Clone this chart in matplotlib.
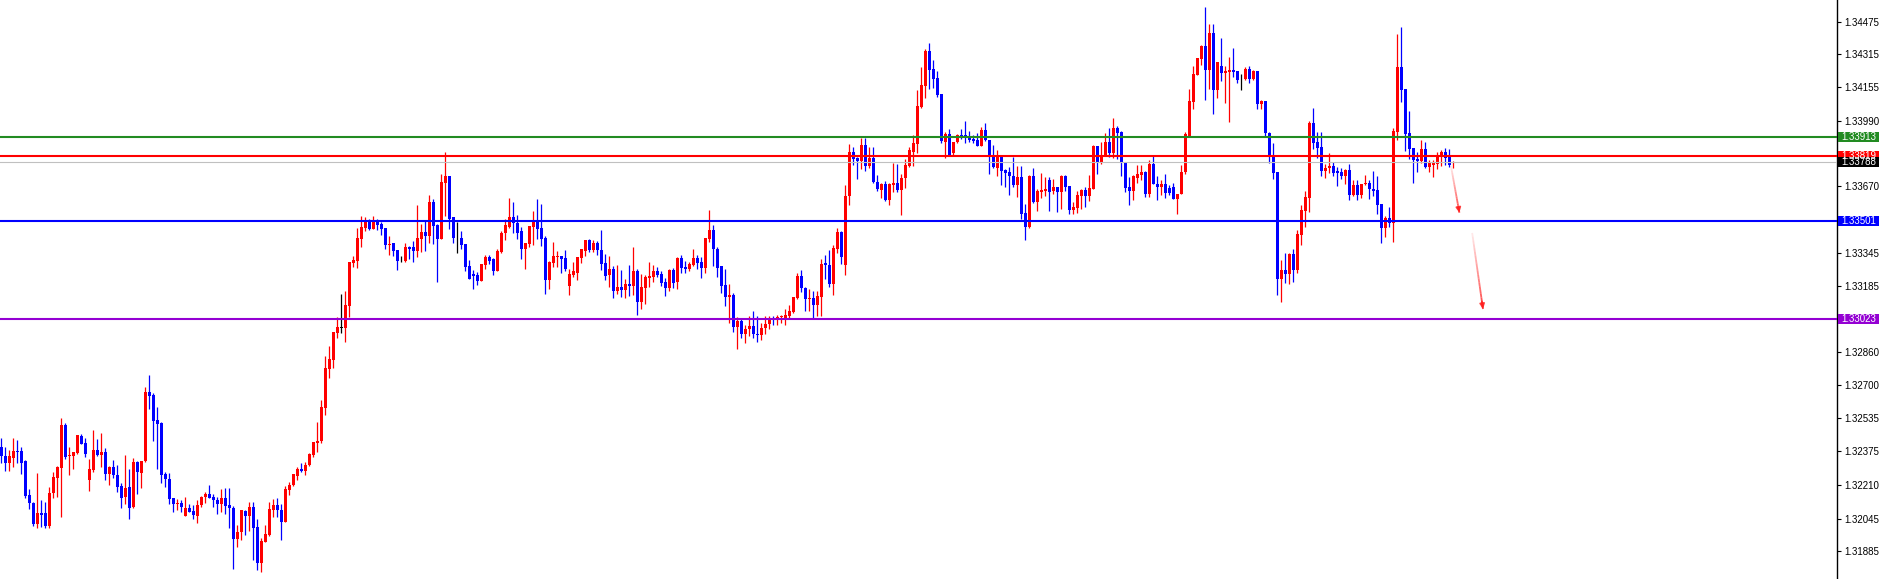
import numpy as np
import matplotlib.pyplot as plt
import matplotlib.transforms as mtransforms
from matplotlib.patches import Rectangle
from matplotlib.collections import LineCollection

# candles, oldest first, prices in points (1e-5)
open_pts = [
    132394,132352,132319,132343,132378,132376,132329,132161,132122,132019,
    132071,132071,132011,132169,132246,132295,132503,132352,132353,132368,
    132449,132413,132236,132285,132381,132358,132371,132265,132298,132259,
    132205,132153,132200,132102,132322,132270,132327,132665,132650,132526,
    132515,132264,132239,132146,132115,132120,132060,132096,132081,132060,
    132110,132149,132164,132151,132136,132117,132148,132112,132097,131947,
    131978,132083,132060,132102,132004,131827,131933,131967,132087,132112,
    132086,132030,132185,132208,132255,132290,132278,132306,132356,132417,
    132425,132587,132778,132820,132954,132978,132978,133086,133296,133306,
    133414,133467,133495,133463,133505,133485,133466,133383,133392,133358,
    133309,133306,133373,133373,133355,133414,133446,133427,133593,133479,
    133414,133687,133720,133518,133415,133419,133388,133280,133241,133236,
    133209,133287,133323,133315,133258,133351,133440,133473,133519,133489,
    133450,133365,133387,133473,133502,133466,133419,133212,133295,133326,
    133330,133320,133184,133237,133248,133321,133356,133408,133359,133391,
    133359,133294,133237,133266,133160,133178,133165,133193,133183,133256,
    133106,133175,133224,133228,133256,133242,133202,133175,133261,133202,
    133320,133277,133268,133287,133320,133300,133273,133414,133457,133365,
    133281,133188,133131,133137,132980,133010,132950,132970,132985,132950,
    132945,132975,132995,133025,133015,133030,133016,133036,133055,133125,
    133231,133174,133117,133122,133089,133130,133293,133285,133192,133363,
    133446,133285,133622,133836,133808,133795,133872,133771,133807,133692,
    133652,133681,133603,133676,133684,133652,133709,133771,133839,133877,
    134056,134160,134331,134242,134199,134121,133888,133926,133834,133885,
    133921,133921,133912,133903,133896,133869,133945,133897,133823,133761,
    133815,133750,133740,133721,133677,133716,133540,133473,133721,133595,
    133644,133647,133701,133647,133667,133644,133721,133672,133556,133564,
    133624,133652,133624,133657,133867,133786,133818,133887,133833,133955,
    133937,133786,133667,133649,133712,133725,133740,133633,133780,133683,
    133667,133682,133660,133667,133610,133633,133740,133916,134084,134214,
    134292,134356,134239,134420,134141,134258,134226,134231,134239,134234,
    134203,134193,134244,134195,134234,134072,134087,133932,133818,133740,
    133218,133261,133241,133339,133261,133432,133549,133613,133980,133887,
    133862,133745,133758,133769,133745,133740,133722,133750,133629,133675,
    133629,133680,133686,133657,133652,133583,133468,133513,133492,133937,
    134253,134146,133931,133856,133803,133792,133852,133766,133776,133779,
    133823,133838,133815,133783,
]
high_pts = [
    132438,132397,132381,132438,132430,132397,132332,132190,132128,132268,
    132136,132128,132202,132273,132303,132536,132515,132394,132371,132454,
    132459,132438,132337,132479,132435,132464,132392,132303,132332,132308,
    132218,132356,132288,132340,132329,132327,132689,132748,132658,132591,
    132518,132272,132268,132148,132141,132136,132153,132117,132110,132136,
    132156,132177,132210,132167,132153,132190,132197,132197,132109,132014,
    132087,132089,132127,132127,132045,131949,132014,132128,132143,132146,
    132117,132205,132223,132264,132296,132316,132324,132365,132422,132519,
    132625,132840,132889,132957,133029,133143,133158,133301,133329,133466,
    133524,133521,133511,133524,133511,133495,133466,133427,133392,133358,
    133329,133391,133378,133402,133578,133485,133505,133627,133608,133484,
    133731,133837,133720,133518,133497,133451,133388,133309,133260,133252,
    133290,133333,133334,133321,133362,133450,133509,133615,133594,133530,
    133473,133391,133476,133550,133608,133584,133427,133307,133398,133356,
    133330,133359,133266,133300,133325,133365,133408,133414,133408,133401,
    133457,133339,133330,133281,133286,133261,133215,133284,133374,133264,
    133240,133237,133300,133284,133277,133256,133222,133264,133269,133323,
    133336,133305,133300,133364,133334,133326,133418,133554,133481,133372,
    133281,133266,133193,133150,133030,133025,132990,133036,133060,133036,
    133000,133036,133036,133036,133040,133040,133071,133089,133130,133247,
    133260,133179,133166,133158,133158,133313,133334,133358,133383,133466,
    133453,133676,133877,133864,133815,133904,133904,133864,133860,133725,
    133684,133696,133684,133782,133779,133728,133803,133864,133921,134141,
    134255,134341,134372,134287,134235,134121,133934,133952,133885,133927,
    133950,133989,133940,133919,133929,133960,133980,133897,133872,133848,
    133815,133753,133763,133815,133769,133769,133584,133725,133758,133655,
    133734,133714,133714,133706,133667,133725,133725,133672,133593,133647,
    133657,133665,133725,133872,133867,133887,133929,133955,134004,133965,
    133942,133786,133714,133725,133774,133774,133745,133800,133818,133721,
    133701,133730,133675,133684,133633,133774,133934,134144,134260,134296,
    134361,134548,134464,134464,134278,134395,134258,134302,134346,134234,
    134219,134255,134258,134239,134234,134092,134087,133936,133883,133740,
    133310,133342,133342,133363,133456,133579,133649,133991,134053,133937,
    133936,133777,133831,133787,133766,133759,133753,133779,133701,133701,
    133681,133725,133701,133743,133720,133583,133526,133570,133955,134415,
    134449,134146,134038,133856,133838,133896,133887,133799,133799,133839,
    133847,133857,133854,133795,
]
low_pts = [
    132319,132280,132280,132299,132319,132264,132148,132094,132011,132001,
    132006,132001,132001,132148,132153,132055,132339,132259,132290,132363,
    132410,132347,132182,132275,132352,132299,132234,132211,132242,132177,
    132099,132117,132045,132097,132167,132197,132324,132581,132427,132290,
    132218,132202,132117,132076,132089,132076,132060,132076,132045,132022,
    132104,132120,132146,132102,132070,132079,132070,132001,131801,131908,
    131939,131967,131986,131843,131794,131786,131933,131962,132055,132052,
    131941,132030,132161,132205,132234,132273,132259,132303,132345,132373,
    132413,132551,132731,132783,132930,132954,132910,133032,133277,133272,
    133374,133451,133456,133461,133456,133432,133365,133335,133329,133260,
    133301,133301,133313,133301,133326,133348,133355,133394,133389,133203,
    133414,133524,133463,133394,133345,133365,133257,133218,133169,133187,
    133209,133268,133289,133237,133258,133346,133408,133468,133444,133413,
    133315,133266,133375,133383,133413,133380,133145,133168,133277,133277,
    133248,133258,133139,133225,133212,133297,133330,133349,133349,133336,
    133261,133211,133180,133126,133144,133129,133126,133136,133139,133043,
    133072,133095,133180,133202,133225,133184,133136,133157,133175,133167,
    133248,133248,133258,133281,133268,133220,133248,133398,133281,133228,
    133150,133087,133000,132960,132875,132930,132905,132940,132930,132910,
    132920,132950,132970,132990,132990,133000,132990,133024,133049,133117,
    133155,133062,133062,133024,133036,133036,133216,133179,133138,133342,
    133288,133236,133578,133774,133705,133754,133746,133761,133684,133648,
    133614,133598,133578,133642,133640,133529,133663,133766,133771,133834,
    134051,134103,134146,134152,134108,133883,133810,133818,133823,133880,
    133901,133883,133888,133883,133867,133869,133892,133730,133758,133722,
    133677,133668,133628,133665,133619,133510,133408,133468,133587,133549,
    133611,133623,133549,133634,133546,133559,133649,133536,133536,133541,
    133561,133569,133600,133657,133730,133779,133818,133812,133809,133804,
    133722,133641,133579,133603,133685,133701,133620,133620,133683,133603,
    133628,133611,133628,133608,133535,133633,133730,133916,134048,134214,
    134263,134092,134146,134024,134103,134185,134076,133984,134204,134177,
    134143,134190,134177,134190,134048,134048,133913,133784,133707,133140,
    133106,133195,133191,133204,133248,133383,133471,133546,133852,133810,
    133722,133712,133733,133720,133673,133706,133683,133603,133623,133605,
    133614,133675,133610,133624,133536,133394,133424,133473,133399,133896,
    134081,133844,133805,133688,133738,133786,133761,133740,133717,133753,
    133769,133773,133763,133761,
]
close_pts = [
    132353,132319,132352,132376,132373,132319,132156,132123,132019,132071,
    132065,132011,132169,132249,132298,132503,132347,132355,132371,132454,
    132412,132363,132288,132381,132358,132371,132265,132298,132259,132202,
    132148,132195,132099,132322,132275,132327,132665,132647,132524,132510,
    132260,132237,132143,132115,132120,132104,132097,132079,132061,132112,
    132151,132166,132148,132135,132117,132146,132109,132096,131947,131980,
    132087,132060,132102,132001,131827,131936,131970,132091,132112,132089,
    132030,132189,132208,132264,132290,132278,132308,132360,132418,132425,
    132590,132781,132824,132957,132982,132978,133089,133300,133309,133417,
    133471,133497,133463,133495,133482,133463,133384,133388,133355,133306,
    133309,133373,133365,133355,133415,133446,133427,133593,133476,133414,
    133691,133720,133511,133419,133415,133384,133277,133218,133233,133208,
    133290,133323,133307,133258,133354,133444,133481,133519,133489,133444,
    133365,133391,133476,133502,133463,133414,133212,133300,133328,133330,
    133317,133266,133242,133256,133325,133365,133408,133359,133391,133359,
    133290,133232,133266,133160,133178,133165,133193,133183,133256,133106,
    133178,133227,133232,133256,133237,133199,133175,133261,133199,133320,
    133273,133268,133290,133320,133297,133273,133418,133457,133362,133273,
    133184,133131,133137,132980,133010,132950,132970,132985,132950,132945,
    132975,132995,133025,133015,133030,133035,133040,133060,133130,133231,
    133174,133120,133122,133089,133135,133290,133285,133192,133366,133446,
    133326,133622,133836,133802,133795,133872,133771,133807,133692,133657,
    133681,133603,133681,133688,133652,133712,133774,133847,133880,134062,
    134164,134331,134238,134196,134116,133893,133926,133823,133885,133921,
    133912,133912,133896,133893,133868,133945,133897,133823,133766,133815,
    133747,133735,133721,133677,133716,133535,133473,133721,133592,133647,
    133652,133657,133644,133667,133644,133721,133668,133556,133569,133628,
    133652,133624,133660,133867,133786,133818,133887,133833,133955,133929,
    133782,133664,133649,133721,133730,133740,133633,133780,133683,133667,
    133682,133639,133639,133610,133633,133740,133926,134087,134219,134296,
    134356,134239,134420,134141,134278,134226,134235,134239,134229,134190,
    134203,134244,134195,134234,134072,134087,133932,133818,133737,133218,
    133261,133241,133339,133261,133437,133554,133618,133980,133883,133859,
    133745,133758,133769,133737,133737,133722,133750,133629,133675,133629,
    133681,133686,133655,133649,133580,133468,133513,133492,133940,134253,
    134143,133927,133852,133800,133792,133852,133766,133784,133784,133823,
    133836,133810,133776,133788,
]

levels = [1.33913, 1.33819, 1.33788, 1.33501, 1.33023]
level_colors = ['#228B22', '#FF0000', '#C0C0C0', '#0000FF', '#9400D3']
label_colors = ['#228B22', '#FF0000', '#000000', '#0000FF', '#9400D3']
level_widths = [1.5, 1.5, 0.8, 1.5, 1.5]

tick_prices = [1.34475, 1.34315, 1.34155, 1.33990, 1.33670, 1.33345, 1.33185,
               1.32860, 1.32700, 1.32535, 1.32375, 1.32210, 1.32045, 1.31885]

# forecast arrows: (bar, price) start -> end
arrow_from = [(362.4, 1.33769), (367.7, 1.33442)]
arrow_to = [(364.5, 1.33541), (370.4, 1.33070)]

o = np.array(open_pts) / 1e5
h = np.array(high_pts) / 1e5
l = np.array(low_pts) / 1e5
c = np.array(close_pts) / 1e5
x = np.arange(len(c))

colors = np.where(c > o, '#FF0000', np.where(c < o, '#0000FF', '#000000'))

fig = plt.figure(figsize=(18.83, 5.79), dpi=100)
ax = fig.add_axes([0, 0, 1837 / 1883, 1])

ax.vlines(x, l, h, colors=colors, linewidth=0.9, zorder=2)
body_h = np.maximum(np.abs(c - o), 0.00003)
ax.bar(x, body_h, bottom=np.minimum(o, c), width=0.72, color=colors,
       linewidth=0, zorder=2)

for lev, col, lw in zip(levels, level_colors, level_widths):
    ax.axhline(lev, color=col, linewidth=lw, zorder=3)

# arrows fade in from their start, as in the drawing tool
for (x0, y0), (x1, y1) in zip(arrow_from, arrow_to):
    t = np.linspace(0, 1, 21)
    px = x0 + (x1 - x0) * t
    py = y0 + (y1 - y0) * t
    segs = [[(px[k], py[k]), (px[k + 1], py[k + 1])] for k in range(20)]
    alphas = np.linspace(0.1, 0.85, 20)
    ax.add_collection(LineCollection(segs, colors=[(1, 0.15, 0.15, a) for a in alphas],
                                     linewidths=1.3, zorder=4))
    ax.annotate('', xy=(x1, y1), xytext=(px[-3], py[-3]),
                arrowprops=dict(arrowstyle='-|>', color='#FF2020', lw=1.3,
                                alpha=0.85, mutation_scale=7,
                                shrinkA=0, shrinkB=0), zorder=4)

ax.set_xlim(-0.325, 458.9)
ax.set_ylim(1.31750, 1.34581)

for side in ['top', 'left', 'bottom']:
    ax.spines[side].set_visible(False)
ax.spines['right'].set_linewidth(1.0)
ax.set_xticks([])
ax.yaxis.tick_right()
ax.set_yticks(tick_prices)
ax.set_yticklabels(['%.5f' % p for p in tick_prices], fontsize=7,
                   family='Liberation Sans')
ax.tick_params(axis='y', direction='out', length=3, width=0.8, pad=2)

trans = mtransforms.blended_transform_factory(ax.transAxes, ax.transData)
box_h = 10 / 20450
box_w = 41 / 1837
for lev, col in zip(levels, label_colors):
    ax.add_patch(Rectangle((1.0006, lev - box_h / 2), box_w, box_h,
                           transform=trans, facecolor=col, edgecolor='none',
                           clip_on=False, zorder=5))
    ax.text(1.0006 + 3 / 1837, lev, '%.5f' % lev, transform=trans,
            color='white', fontsize=7, family='Liberation Sans',
            va='center', ha='left', zorder=6, clip_on=False)

fig.savefig('out.png', dpi=100)
